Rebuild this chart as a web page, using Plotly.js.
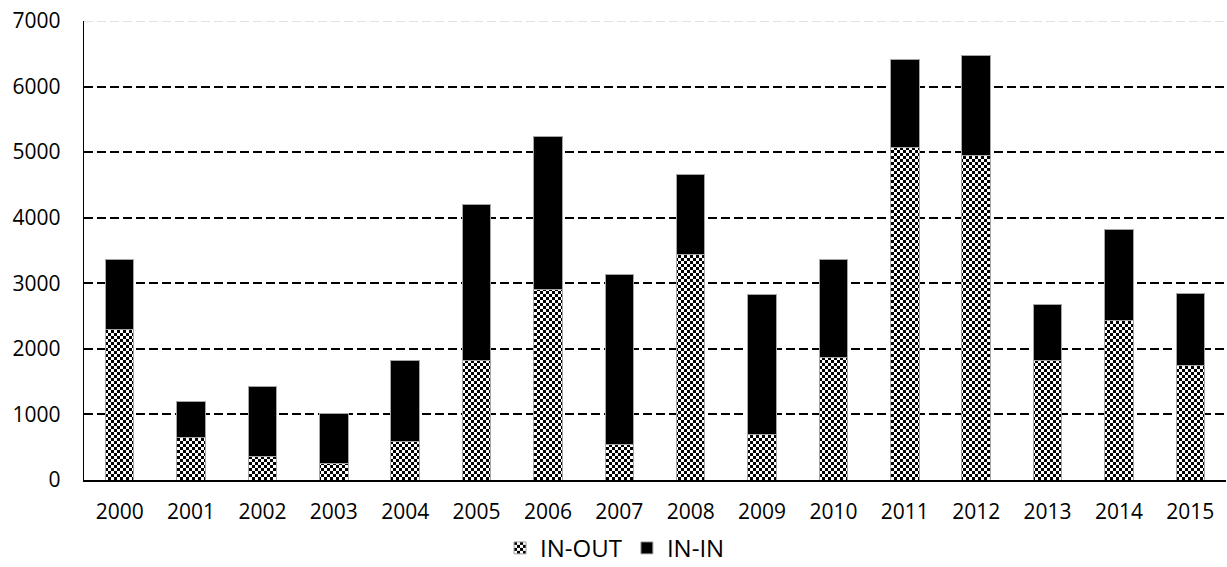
<!DOCTYPE html>
<html>
<head>
<meta charset="utf-8">
<script src="https://cdn.plot.ly/plotly-3.0.1.min.js"></script>
<style>html,body{margin:0;padding:0;background:#fff;}#chart{width:1227px;height:567px;}</style>
</head>
<body>
<div id="chart"></div>
<script>
const years = ["2000","2001","2002","2003","2004","2005","2006","2007","2008","2009","2010","2011","2012","2013","2014","2015"];
const inOut = [2300, 645, 355, 245, 580, 1815, 2910, 535, 3442, 700, 1870, 5075, 4952, 1830, 2425, 1740];
const inIn  = [1070, 550, 1070, 772, 1240, 2380, 2330, 2602, 1220, 2132, 1496, 1341, 1519, 854, 1388, 1107];
const yTicks = [0, 1000, 2000, 3000, 4000, 5000, 6000, 7000];

const font = "Open Sans, Noto Sans, sans-serif";
const traces = [
  {
    type: "bar", name: "IN-OUT", x: years, y: inOut,
    marker: {color: "#ffffff", line: {color: "#a6a6a6", width: 1},
             pattern: {shape: ".", fgcolor: "#000000", bgcolor: "#ffffff", size: 6, solidity: 0.5}},
    hoverinfo: "x+y"
  },
  {
    type: "bar", name: "IN-IN", x: years, y: inIn,
    marker: {color: "#000000", line: {color: "#a6a6a6", width: 1}},
    hoverinfo: "x+y"
  }
];
const layout = {
  width: 1227, height: 567,
  margin: {l: 84, r: 1, t: 21, b: 87},
  barmode: "stack",
  bargap: 0.6,
  paper_bgcolor: "#ffffff", plot_bgcolor: "#ffffff",
  font: {family: font, size: 21, color: "#000000"},
  showlegend: true,
  legend: {orientation: "h", x: 0.465, xanchor: "center", yref: "container", y: 0.033, yanchor: "middle",
           traceorder: "normal", font: {family: font, size: 24, color: "#000"}, itemwidth: 30},
  xaxis: {type: "category", showgrid: false, ticks: "", showline: true, linecolor: "#000000", linewidth: 2,
          tickfont: {family: font, size: 21}, ticklabelstandoff: 12, fixedrange: true},
  yaxis: {range: [0, 7000], tickvals: yTicks, ticktext: yTicks.map(String), ticks: "",
          showgrid: true, gridcolor: "#000000", gridwidth: 2, griddash: "9px,4px",
          showline: true, linecolor: "#000000", linewidth: 1.2, zeroline: false,
          tickfont: {family: font, size: 21}, ticklabelstandoff: 18, fixedrange: true},
  shapes: [
    {type: "line", xref: "paper", yref: "y", x0: 0, x1: 1, y0: 7000, y1: 7000, layer: "above",
     line: {color: "#ffffff", width: 3}},
    {type: "line", xref: "paper", yref: "y", x0: 0, x1: 1, y0: 7000, y1: 7000, layer: "above",
     line: {color: "#d9d9d9", width: 1.5, dash: "9px,4px"}}
  ]
};

function checker() {
  const ns = "http://www.w3.org/2000/svg";
  document.querySelectorAll("#chart pattern").forEach(p => {
    while (p.firstChild) p.removeChild(p.firstChild);
    p.removeAttribute("patternTransform");
    p.setAttribute("patternUnits", "userSpaceOnUse");
    p.setAttribute("width", "6"); p.setAttribute("height", "6");
    const mk = (x, y, w, h, c) => { const r = document.createElementNS(ns, "rect");
      r.setAttribute("x", x); r.setAttribute("y", y); r.setAttribute("width", w); r.setAttribute("height", h);
      r.setAttribute("fill", c); p.appendChild(r); };
    mk(0, 0, 6, 6, "#ffffff");
    mk(0, 0, 3, 3, "#000000");
    mk(3, 3, 3, 3, "#000000");
  });
}
Plotly.newPlot("chart", traces, layout, {displayModeBar: false, staticPlot: true}).then(checker);
</script>
</body>
</html>
